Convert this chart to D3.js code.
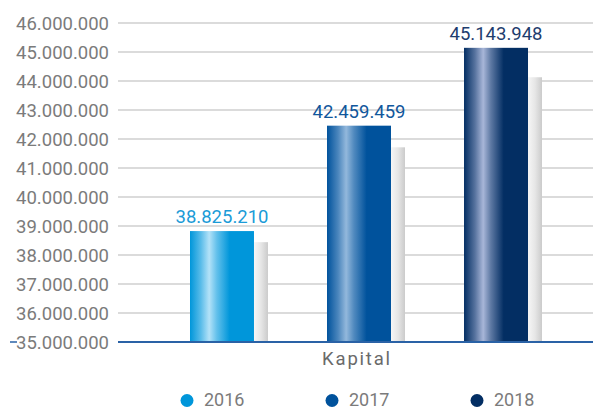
<!DOCTYPE html>
<html>
<head>
<meta charset="utf-8">
<script src="https://cdn.jsdelivr.net/npm/d3@7"></script>
<style>
  body { margin: 0; background: #fff; }
  svg { display: block; font-family: Roboto, "Liberation Sans", sans-serif; }
</style>
</head>
<body>
<svg width="593" height="411"></svg>
<script>
// Data

const categories = ["Kapital"];
const years = ["2016", "2017", "2018"];
const values = [38825210, 42459459, 45143948];
const yTicks = [35000000, 36000000, 37000000, 38000000, 39000000, 40000000,
    41000000, 42000000, 43000000, 44000000, 45000000, 46000000];

// Colours per year: base, highlight, label
const baseColors = ["#0096da", "#00529c", "#032e63"];
const lightColors = ["#b3e2f8", "#93b8dc", "#a8b6d8"];
const labelColors = ["#1b9bd7", "#11579c", "#1e3d6e"];

const W = 593, H = 411;
const plotLeft = 118, plotRight = 600, plotTop = 23, plotBottom = 342;

const svg = d3.select("svg");

const fmt = d3.formatLocale({ decimal: ",", thousands: ".", grouping: [3], currency: ["", ""] }).format(",d");

const y = d3.scaleLinear()
    .domain([35000000, 46000000])
    .range([plotBottom, plotTop]);

const x0 = d3.scaleBand()
    .domain(categories)
    .range([plotLeft, plotRight])
    .paddingOuter(0.213);

const x1 = d3.scaleBand()
    .domain(years)
    .range([0, x0.bandwidth()])
    .paddingInner(0.533);

// Gradients
const defs = svg.append("defs");
years.forEach((yr, i) => {
    const g = defs.append("linearGradient").attr("id", "bar" + i);
    const stops = [
        [0, baseColors[i]],
        [0.17, d3.interpolateRgb(baseColors[i], lightColors[i])(0.5)],
        [0.3, lightColors[i]],
        [0.42, d3.interpolateRgb(baseColors[i], lightColors[i])(0.55)],
        [0.62, baseColors[i]],
        [1, baseColors[i]]
    ];
    stops.forEach(s => g.append("stop").attr("offset", s[0]).attr("stop-color", s[1]));
});
const sg = defs.append("linearGradient").attr("id", "shadow");
sg.append("stop").attr("offset", 0).attr("stop-color", "#f6f6f6");
sg.append("stop").attr("offset", 0.5).attr("stop-color", "#e6e6e6");
sg.append("stop").attr("offset", 1).attr("stop-color", "#cbcbcb");

// Grid
svg.append("g")
    .selectAll("line")
    .data(yTicks.slice(1))
    .join("line")
    .attr("x1", plotLeft)
    .attr("x2", W)
    .attr("y1", d => y(d))
    .attr("y2", d => y(d))
    .attr("stroke", "#cfcfcf")
    .attr("stroke-width", 1.5);

// Y labels
svg.append("g")
    .selectAll("text")
    .data(yTicks)
    .join("text")
    .attr("x", 109)
    .attr("y", d => y(d) + 6.5)
    .attr("text-anchor", "end")
    .attr("fill", "#7b7b7b")
    .attr("font-size", 18.5)
    .text(d => fmt(d));

// small tick left of baseline label
svg.append("line")
    .attr("x1", 10).attr("x2", 17)
    .attr("y1", y(35000000)).attr("y2", y(35000000))
    .attr("stroke", "#2a62a6").attr("stroke-width", 1.5);

const group = svg.append("g").attr("transform", `translate(${x0("Kapital")},0)`);
const bw = x1.bandwidth();

// Shadow bars
group.selectAll("rect.shadow")
    .data(values)
    .join("rect")
    .attr("class", "shadow")
    .attr("x", (d, i) => x1(years[i]) + bw)
    .attr("width", 14)
    .attr("y", d => y(35000000 + 0.9 * (d - 35000000)))
    .attr("height", d => y(35000000) - y(35000000 + 0.9 * (d - 35000000)))
    .attr("fill", "url(#shadow)");

// Bars
group.selectAll("rect.bar")
    .data(values)
    .join("rect")
    .attr("class", "bar")
    .attr("x", (d, i) => x1(years[i]))
    .attr("width", bw)
    .attr("y", d => y(d))
    .attr("height", d => y(35000000) - y(d))
    .attr("fill", (d, i) => `url(#bar${i})`);

// Value labels
group.selectAll("text.val")
    .data(values)
    .join("text")
    .attr("class", "val")
    .attr("x", (d, i) => x1(years[i]) + bw / 2)
    .attr("y", d => y(d) - 8)
    .attr("text-anchor", "middle")
    .attr("fill", (d, i) => labelColors[i])
    .attr("font-size", 18.5)
    .text(d => fmt(d));

// Baseline axis
svg.append("line")
    .attr("x1", plotLeft).attr("x2", W)
    .attr("y1", y(35000000)).attr("y2", y(35000000))
    .attr("stroke", "#2a62a6").attr("stroke-width", 2);

// Category label
svg.append("text")
    .attr("x", x0("Kapital") + x0.bandwidth() / 2 - 2)
    .attr("y", 365)
    .attr("text-anchor", "middle")
    .attr("fill", "#6a6a6a")
    .attr("font-size", 18.5)
    .attr("letter-spacing", 1.8)
    .text("Kapital");

// Legend
const legend = svg.append("g")
    .selectAll("g")
    .data(years)
    .join("g")
    .attr("transform", (d, i) => `translate(${187 + i * 145},400.5)`);
legend.append("circle")
    .attr("r", 6.5)
    .attr("fill", (d, i) => baseColors[i]);
legend.append("text")
    .attr("x", 17)
    .attr("y", 5.5)
    .attr("fill", "#7b7b7b")
    .attr("font-size", 18)
    .text(d => d);
</script>
</body>
</html>
